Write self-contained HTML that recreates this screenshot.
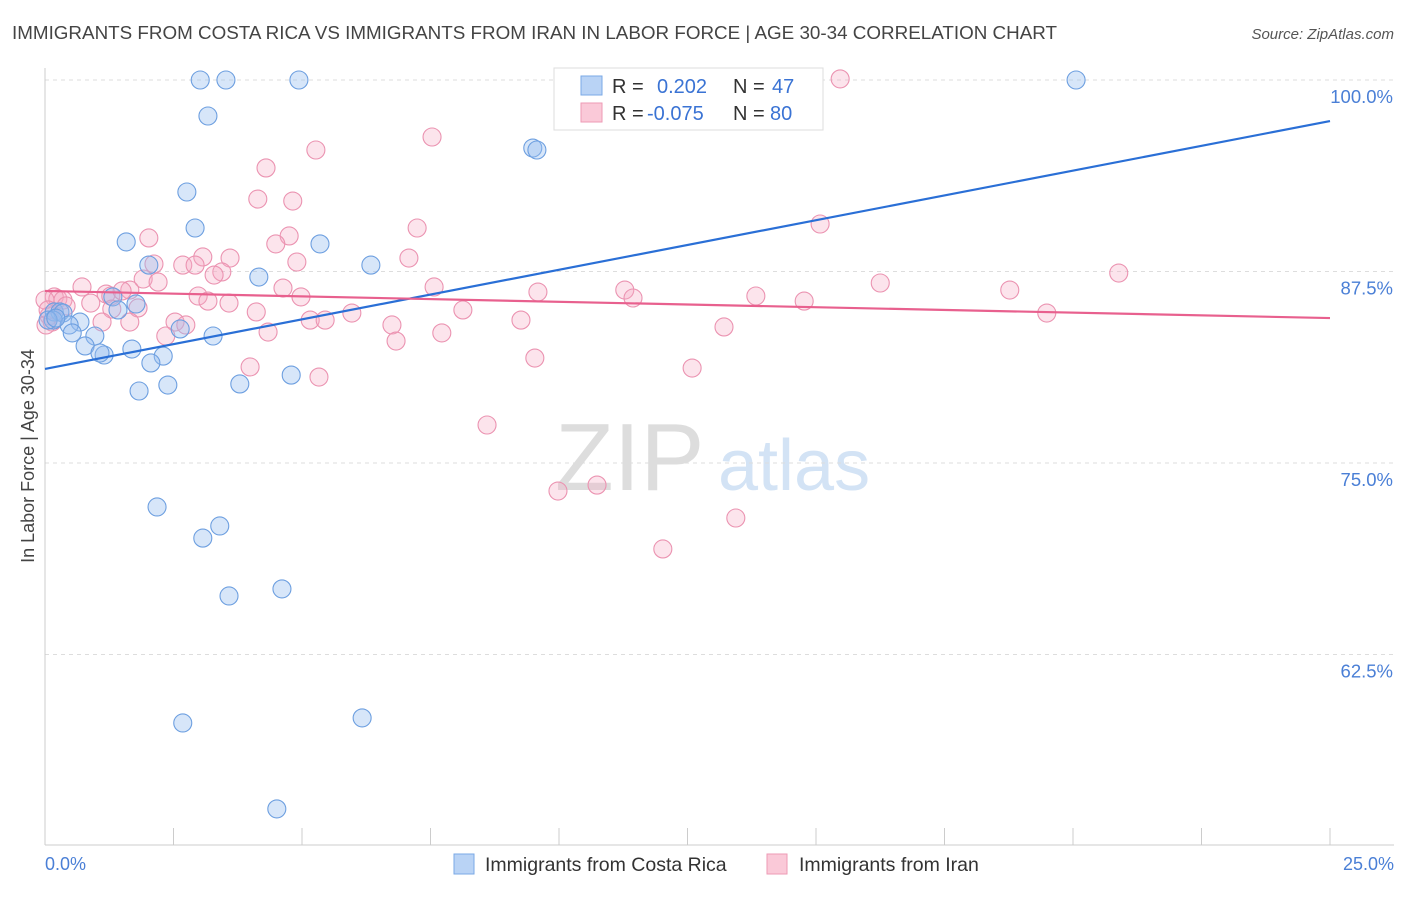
<!DOCTYPE html>
<html><head><meta charset="utf-8"><style>
body{margin:0;background:#fff;font-family:"Liberation Sans",sans-serif}
svg text{font-family:"Liberation Sans",sans-serif}
</style></head><body>
<svg id="chart" width="1406" height="892" viewBox="0 0 1406 892" xmlns="http://www.w3.org/2000/svg">
<text x="12" y="39" font-size="18" fill="#444" textLength="1045" lengthAdjust="spacingAndGlyphs">IMMIGRANTS FROM COSTA RICA VS IMMIGRANTS FROM IRAN IN LABOR FORCE | AGE 30-34 CORRELATION CHART</text>
<text x="1394" y="39" font-size="15" fill="#555" text-anchor="end" font-style="italic">Source: ZipAtlas.com</text>
<g>
<text x="555" y="490" font-size="96" fill="#ddd" font-family="Liberation Serif, serif">ZIP</text>
<text x="718" y="490" font-size="72" fill="#d3e3f5">atlas</text>
</g>
<g id="grid"></g>
<line x1="45" y1="68" x2="45" y2="845" stroke="#ccc"/>
<line x1="45" y1="845" x2="1394" y2="845" stroke="#ccc"/>
<g id="xticks"></g>
<g id="ylabels"></g>
<text transform="translate(34,456) rotate(-90)" font-size="18" fill="#444" text-anchor="middle">In Labor Force | Age 30-34</text>
<text x="45" y="870" font-size="18" fill="#4a7fd6">0.0%</text>
<text x="1394" y="870" font-size="18" fill="#4a7fd6" text-anchor="end">25.0%</text>
<g id="pink"></g>
<g id="blue"></g>
<g id="trends"></g>
<g>
<rect x="554" y="68" width="269" height="62" fill="#fff" stroke="#ddd"/>
<rect x="581" y="76" width="21" height="19" fill="#b9d3f5" stroke="#7aa8e6"/>
<rect x="581" y="103" width="21" height="19" fill="#fac9d8" stroke="#ee9ab5"/>
<text x="612" y="93" font-size="20" fill="#333">R =</text>
<text x="657" y="93" font-size="20" fill="#3a73d4">0.202</text>
<text x="733" y="93" font-size="20" fill="#333">N =</text>
<text x="772" y="93" font-size="20" fill="#3a73d4">47</text>
<text x="612" y="120" font-size="20" fill="#333">R =</text>
<text x="647" y="120" font-size="20" fill="#3a73d4">-0.075</text>
<text x="733" y="120" font-size="20" fill="#333">N =</text>
<text x="770" y="120" font-size="20" fill="#3a73d4">80</text>
</g>
<g>
<rect x="454" y="854" width="20" height="20" fill="#b9d3f5" stroke="#7aa8e6"/>
<text x="485" y="871" font-size="19.5" fill="#333">Immigrants from Costa Rica</text>
</g>
<g>
<rect x="767" y="854" width="20" height="20" fill="#fac9d8" stroke="#ee9ab5"/>
<text x="799" y="871" font-size="19.5" fill="#333">Immigrants from Iran</text>
</g>
</svg>
<script>
const blueX=[3.02,3.52,4.94,20.06,3.17,9.49,9.57,2.76,2.92,1.58,5.35,2.02,6.34,4.16,1.32,1.77,1.42,0.18,0.29,0.35,0.16,0.68,0.47,0.53,0.97,3.27,2.63,0.78,1.69,1.15,1.07,2.30,2.06,4.79,3.79,2.39,1.83,2.18,3.40,3.07,3.58,4.61,2.68,6.17,4.51,0.06,0.21];
const blueY=[100,100,100,100,97.65,95.56,95.43,92.69,90.34,89.43,89.30,87.92,87.92,87.14,85.84,85.38,84.99,84.86,84.86,84.79,84.33,84.20,84.01,83.49,83.29,83.29,83.75,82.64,82.44,82.05,82.18,81.98,81.53,80.74,80.16,80.09,79.70,72.13,70.89,70.10,66.32,66.78,58.03,58.36,52.42,84.33,84.46];
const pinkX=[15.47,10.95,7.53,5.27,4.30,4.14,4.82,15.08,7.24,2.02,4.75,4.49,3.07,3.60,7.08,4.90,2.12,2.68,2.92,20.89,3.44,1.91,3.29,2.20,16.25,7.57,4.63,11.28,18.77,9.59,0.72,1.19,1.65,1.28,1.50,0.18,0.25,0.35,0.0,13.83,11.44,14.77,4.98,2.98,3.58,3.17,0.41,1.81,0.89,1.30,8.13,4.11,5.97,19.49,0.08,0.14,9.26,5.16,5.45,2.53,2.74,1.11,1.65,6.75,13.21,4.34,7.72,2.35,6.83,9.53,3.99,12.59,5.33,8.60,9.98,10.74,13.44,12.02,0.02,0.06];
const pinkY=[100.07,99.93,96.28,95.43,94.26,92.23,92.10,90.60,90.34,89.69,89.82,89.30,88.45,88.38,88.38,88.12,87.99,87.92,87.92,87.40,87.47,87.01,87.27,86.81,86.75,86.49,86.42,86.29,86.29,86.16,86.49,86.03,86.29,85.90,86.23,85.84,85.71,85.64,85.64,85.90,85.77,85.57,85.84,85.90,85.44,85.57,85.25,85.12,85.44,85.05,84.99,84.86,84.79,84.79,84.60,84.20,84.33,84.33,84.33,84.20,84.01,84.20,84.20,84.01,83.88,83.55,83.49,83.29,82.96,81.85,81.27,81.20,80.61,77.48,73.17,73.56,71.41,69.39,84.01,84.99];
const blueTrend=[81.14,97.32];
const pinkTrend=[86.23,84.46];
const trendX=[0,25];
const yTicks=[100,87.5,75,62.5];
const yTickLabels=["100.0%","87.5%","75.0%","62.5%"];
const xTicks=[0,2.5,5,7.5,10,12.5,15,17.5,20,22.5,25];
const NS="http://www.w3.org/2000/svg";
const sx=v=>45+v/25*1285;
const sy=v=>80+(100-v)/12.5*191.5;
function mk(tag,attrs,parent){const e=document.createElementNS(NS,tag);for(const k in attrs)e.setAttribute(k,attrs[k]);document.getElementById(parent).appendChild(e);return e;}
yTicks.forEach((t,i)=>{
  const l=mk('line',{x1:45,x2:1394,y1:sy(t),y2:sy(t),stroke:'#ddd','stroke-dasharray':'4,4'},'grid');
  
  
  const tx=mk('text',{x:1393,y:sy(t)+23,'font-size':18.5,fill:'#4a7fd6','text-anchor':'end'},'ylabels');
  tx.textContent=yTickLabels[i];
  
  
});
xTicks.forEach(t=>{
  const l=mk('line',{x1:sx(t),x2:sx(t),y1:828,y2:845,stroke:'#ccc'},'xticks');
  
  
});
pinkX.forEach((x,i)=>{
  const c=mk('circle',{cx:sx(x),cy:sy(pinkY[i]),r:9,fill:'rgba(245,170,196,0.32)',stroke:'#eb93b1','stroke-width':1.1},'pink');
  
  
});
blueX.forEach((x,i)=>{
  const c=mk('circle',{cx:sx(x),cy:sy(blueY[i]),r:9,fill:'rgba(150,190,240,0.38)',stroke:'#6d9fe0','stroke-width':1.1},'blue');
  
  
});
const bl=mk('line',{x1:sx(trendX[0]),y1:sy(blueTrend[0]),x2:sx(trendX[1]),y2:sy(blueTrend[1]),stroke:'#2a6fd6','stroke-width':2.2},'trends');


const pl=mk('line',{x1:sx(trendX[0]),y1:sy(pinkTrend[0]),x2:sx(trendX[1]),y2:sy(pinkTrend[1]),stroke:'#e8608e','stroke-width':2.2},'trends');


</script>
</body></html>
